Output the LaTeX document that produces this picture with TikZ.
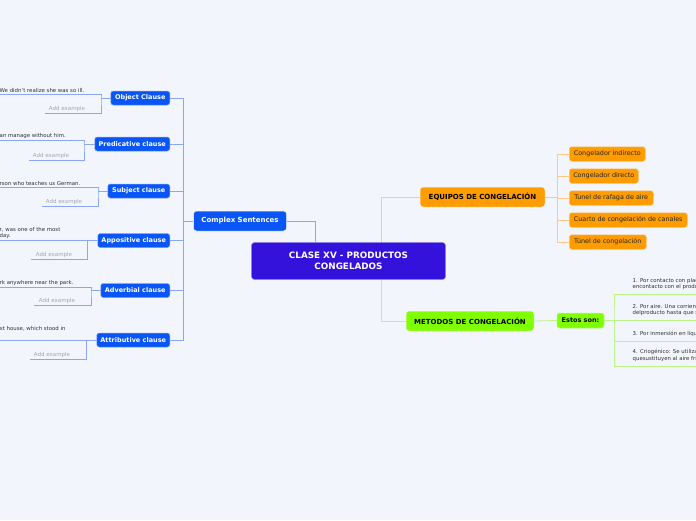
\documentclass[tikz,border=0pt]{standalone}
\usepackage{fontspec}
\setmainfont{DejaVu Sans}
\usepackage{xcolor}
\usepackage{tikz}
\usetikzlibrary{positioning}
\definecolor{paper}{HTML}{F3F5FD}
\definecolor{rootpurple}{HTML}{3412DC}
\definecolor{topicblue}{HTML}{0A55F5}
\definecolor{bluelink}{HTML}{8BA7F3}
\definecolor{frostorange}{HTML}{FF9C00}
\definecolor{orangelink}{HTML}{FFC985}
\definecolor{methodlime}{HTML}{80FF00}
\definecolor{limelink}{HTML}{BDF48A}
\tikzset{
  central/.style={rectangle, rounded corners=3pt, fill=rootpurple, draw=rootpurple!55!white, line width=0.6pt, text=white, align=center, font=\fontsize{8.8}{11}\selectfont\bfseries, minimum width=194pt, minimum height=37pt},
  branch/.style={rectangle, rounded corners=3pt, draw=white!60!black!10, line width=0.5pt, font=\fontsize{7}{8}\selectfont\bfseries, inner sep=0pt, minimum height=20pt},
  clause/.style={rectangle, rounded corners=2.5pt, fill=topicblue, draw=topicblue!55!white, line width=0.5pt, text=white, font=\fontsize{6.5}{8}\selectfont\bfseries, inner sep=0pt, minimum height=14pt},
  leaf/.style={rectangle, rounded corners=2.5pt, fill=frostorange, draw=frostorange!60!white, line width=0.5pt, text=black!85, font=\fontsize{6.4}{8}\selectfont, inner sep=0pt, minimum height=14.5pt},
  note/.style={font=\fontsize{5.4}{6.2}\selectfont, text=black!80, align=left, inner sep=1.5pt},
  hint/.style={font=\fontsize{5.5}{6.5}\selectfont, text=black!35, inner sep=1.5pt},
  link/.style={line width=0.8pt},
}

\begin{document}
\begin{tikzpicture}[x=1pt, y=-1pt]
\useasboundingbox (0,0) rectangle (696,520);
\clip (0,0) rectangle (696,520);
\fill[paper] (0,0) rectangle (696,520);

% centre and main topics
\node[central] (root) at (348.5,261) {CLASE XV - PRODUCTOS\\CONGELADOS};
\node[branch, fill=topicblue, text=white, minimum width=93pt] (cs) at (240,221) {Complex Sentences};
\node[branch, fill=frostorange, text=black, minimum width=125pt] (eq) at (482.5,197) {EQUIPOS DE CONGELACIÓN};
\node[branch, fill=methodlime, text=black, minimum width=128pt] (met) at (470,321) {METODOS DE CONGELACIÓN};
\node[clause, fill=methodlime, draw=methodlime!60!white, text=black, minimum width=47pt, minimum height=15pt] (estos) at (580.5,320.5) {Estos son:};

\draw[bluelink, link] (cs.east) -| ([xshift=-33pt]root.north);
\draw[orangelink, link] ([xshift=33pt]root.north) |- (eq.west);
\draw[limelink, link] ([xshift=33pt]root.south) |- (met.west);
\draw[limelink, link] (met.east) -- (estos.west);

% clauses
\node[clause, anchor=east, minimum width=59pt] (obj) at (170,98) {Object Clause};
\node[clause, anchor=east, minimum width=75pt] (pred) at (170,144) {Predicative clause};
\node[clause, anchor=east, minimum width=62pt] (subj) at (170,191) {Subject clause};
\node[clause, anchor=east, minimum width=72pt] (appo) at (170,240.5) {Appositive clause};
\node[clause, anchor=east, minimum width=69pt] (adv) at (170,290.5) {Adverbial clause};
\node[clause, anchor=east, minimum width=73pt] (attr) at (170,340) {Attributive clause};

\coordinate (csk) at (183,221);
\draw[bluelink, link] (cs.west) -- (csk);
\foreach \c in {obj,pred,subj,appo,adv,attr}
  \draw[bluelink, link] (\c.east) -| (csk);

% examples
\coordinate (objk) at (101,98);  \coordinate (objtop) at (-2,94);   \coordinate (objbot) at (45,113);
\coordinate (predk) at (84,144); \coordinate (predtop) at (-2,140); \coordinate (predbot) at (29,160);
\coordinate (subjk) at (98,191); \coordinate (subjtop) at (-2,187); \coordinate (subjbot) at (42,206);
\coordinate (appok) at (87,240.5); \coordinate (appotop) at (-2,240.5); \coordinate (appobot) at (31,259);
\coordinate (advk) at (91,290.5); \coordinate (advtop) at (-2,287); \coordinate (advbot) at (34,305);
\coordinate (attrk) at (86,340); \coordinate (attrtop) at (-2,340); \coordinate (attrbot) at (30,359);

\draw[bluelink, link] (obj.west) -- (objk);   \draw[bluelink, link] (objtop) -| (objk) |- (objbot);
\draw[bluelink, link] (pred.west) -- (predk); \draw[bluelink, link] (predtop) -| (predk) |- (predbot);
\draw[bluelink, link] (subj.west) -- (subjk); \draw[bluelink, link] (subjtop) -| (subjk) |- (subjbot);
\draw[bluelink, link] (appo.west) -- (appok); \draw[bluelink, link] (appotop) -| (appok) |- (appobot);
\draw[bluelink, link] (adv.west) -- (advk);   \draw[bluelink, link] (advtop) -| (advk) |- (advbot);
\draw[bluelink, link] (attr.west) -- (attrk); \draw[bluelink, link] (attrtop) -| (attrk) |- (attrbot);

\node[note, anchor=south west] (objex) at (objtop) {We didn't realize she was so ill.};
\node[note, anchor=south west] (predex) at (predtop) {an manage without him.};
\node[note, anchor=south west] (subjex) at (subjtop) {rson who teaches us German.};
\node[note, anchor=south west] (appoex) at (appotop) {r, was one of the most\\day.};
\node[note, anchor=south west] (advex) at (advtop) {rk anywhere near the park.};
\node[note, anchor=south west] (attrex) at ([yshift=7pt]attrtop) {xt house, which stood in};

\node[hint, anchor=south] (objadd) at ([xshift=22pt]objbot) {Add example};
\node[hint, anchor=south] (predadd) at ([xshift=22pt]predbot) {Add example};
\node[hint, anchor=south] (subjadd) at ([xshift=22pt]subjbot) {Add example};
\node[hint, anchor=south] (appoadd) at ([xshift=23pt]appobot) {Add example};
\node[hint, anchor=south] (advadd) at ([xshift=23pt]advbot) {Add example};
\node[hint, anchor=south] (attradd) at ([xshift=22pt]attrbot) {Add example};

% freezing equipment
\node[leaf, anchor=west, minimum width=76pt] (ci) at (569,154) {Congelador indirecto};
\node[leaf, below=7pt of ci.south west, anchor=north west, minimum width=69pt] (cd) {Congelador directo};
\node[leaf, below=7pt of cd.south west, anchor=north west, minimum width=84pt] (tr) {Tunel de rafaga de aire};
\node[leaf, below=7pt of tr.south west, anchor=north west, minimum width=118pt] (cc) {Cuarto de congelación de canales};
\node[leaf, below=7pt of cc.south west, anchor=north west, minimum width=77pt] (tc) {Túnel de congelación};

\coordinate (eqk) at (557,197);
\draw[orangelink, link] (eq.east) -- (eqk);
\foreach \c in {ci,cd,tr,cc,tc}
  \draw[orangelink, link] (\c.west) -| (eqk);

% freezing methods
\coordinate (estk) at (614,320.5);
\coordinate (m1) at (700,294.5);
\coordinate (m2) at (700,320.5);
\coordinate (m3) at (700,341);
\coordinate (m4) at (700,366);
\draw[limelink, link] (estos.east) -- (estk);
\draw[limelink, link] (m1) -| (estk) |- (m4);
\draw[limelink, link] (estk) -- (m2);
\draw[limelink, link] (m3) -| (estk);

\node[note, anchor=south west] (met1) at ([yshift=3pt]631,294.5) {1. Por contacto con placas\\encontacto con el producto};
\node[note, anchor=south west] (met2) at ([yshift=3pt]631,320.5) {2. Por aire. Una corriente\\delproducto hasta que se};
\node[note, anchor=south west] (met3) at ([yshift=3pt]631,341) {3. Por inmersión en líquido};
\node[note, anchor=south west] (met4) at ([yshift=3pt]631,366) {4. Criogénico: Se utiliza\\quesustituyen al aire frío};
\end{tikzpicture}
\end{document}
